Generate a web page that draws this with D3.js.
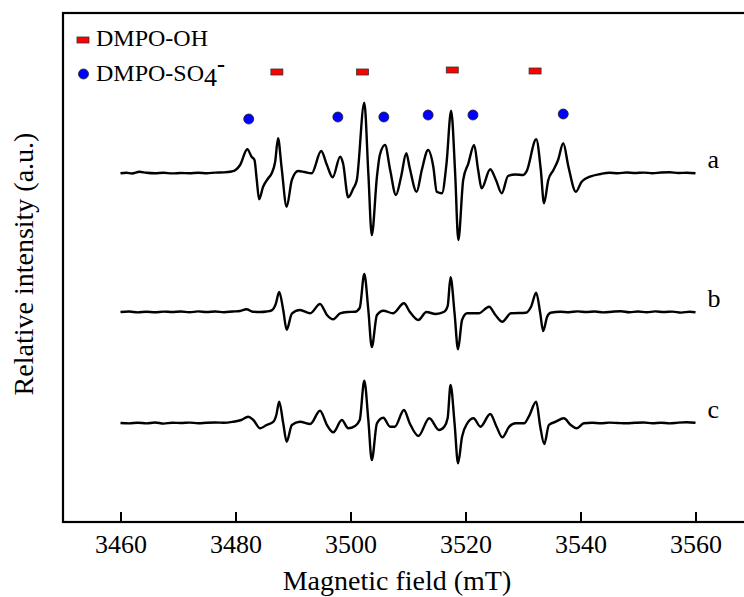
<!DOCTYPE html>
<html>
<head>
<meta charset="utf-8">
<script src="https://cdn.jsdelivr.net/npm/d3@7"></script>
<style>
  body { margin: 0; background: #fff; }
  svg text { font-family: "Liberation Serif", "Times New Roman", serif; fill: #000; }
</style>
</head>
<body>
<div class="EprChart"></div>
<script>
// spectra: [magnetic field (mT), relative intensity]
let traceA = [
    [3460.0,-0.3],[3461.0,0.3],[3462.0,-0.5],[3463.3,1.2],[3464.5,0.2],[3466,-0.3],[3467.5,0.2],[3469,-0.4],
    [3470.5,0],[3472,-0.3],[3473.5,0.3],[3475,-0.2],[3476.5,0.4],[3478,0.6],[3479.3,1.5],[3480.0,3],
    [3480.8,8],[3482.05,23.7],[3482.8,16.3],[3483.3,13],[3483.7,-7],[3484.1,-26.3],[3484.8,-13.7],[3485.6,-6],
    [3486.3,-0.3],[3486.9,11.3],[3487.4,34.7],[3488.0,6.3],[3488.9,-33.7],[3489.8,-7],[3490.9,2],[3492,1],
    [3493.25,-0.3],[3494.9,22],[3495.9,8],[3496.9,-4.3],[3498.2,16.3],[3498.7,9.7],[3499.6,-24.3],[3500.5,-15.3],
    [3501.1,-7],[3502.4,70.3],[3503.1,0],[3503.7,-62],[3504.6,-3.7],[3505.1,18],[3506.0,28],[3506.9,3],
    [3507.9,-22],[3508.8,-3.7],[3509.7,19.7],[3510.3,5],[3511.5,-18.7],[3512.4,3],[3513.5,23],[3514.4,6.3],
    [3515.0,-18.7],[3515.9,-20.3],[3516.7,9.7],[3517.5,62.3],[3518.2,-0.3],[3518.75,-67],[3519.6,-7],[3520.5,9.7],
    [3521.5,28],[3522.2,3],[3522.8,-15.3],[3524.3,3.7],[3525.3,-7],[3526.3,-20.3],[3527.4,-3],[3528.7,-1.5],
    [3530.05,-2],[3530.6,1.3],[3532.3,33.7],[3533.1,3],[3533.65,-30.3],[3534.4,-7],[3535.3,3],[3536.1,13],
    [3537.0,29.7],[3537.9,6.3],[3539.2,-18.7],[3540.2,-8.7],[3541.65,-3.7],[3543.5,-1],[3545,0.3],[3546.5,-0.3],
    [3548,0.5],[3549.5,0],[3551,0.4],[3552.5,-0.2],[3554,0.5],[3555.5,0.8],[3557,0],[3558.5,0.3],[3560,-0.3]
];

let traceB = [
    [3460,0],[3461.5,0.5],[3463,-0.4],[3464.5,0.3],[3466,-0.3],[3467.5,0.4],[3469,0],[3470.5,0.5],
    [3472,-0.3],[3473.5,0.6],[3475,0],[3476.5,0.5],[3478,-0.2],[3479.5,0.5],[3480.8,1],[3481.9,2.7],
    [3483,0.3],[3484.3,0],[3485.4,0.5],[3486.3,1.7],[3487.0,8],[3487.6,20],[3488.3,2],[3488.9,-17.7],
    [3489.8,-1.7],[3491.2,2],[3493.0,-1.3],[3494.7,8],[3495.9,-3],[3497.0,-7.3],[3498.2,-1.3],[3499.5,0],
    [3500.8,0.3],[3501.6,4],[3502.4,38],[3503.1,2],[3503.7,-35],[3504.6,-3],[3505.7,1.3],[3507.4,-1.3],
    [3509.3,8.7],[3510.3,0.3],[3511.8,-8],[3513.2,0],[3514.8,-2],[3516.3,0.3],[3516.9,6],[3517.4,34.7],
    [3518.1,-1.3],[3518.7,-37.3],[3519.4,-8],[3520.3,-1.3],[3522.3,-1.3],[3524.1,5.3],[3525.2,-3],[3526.4,-9.7],
    [3527.9,-1.3],[3530.5,-0.7],[3531.4,5.3],[3532.3,19.3],[3533.0,-1.3],[3533.5,-19],[3534.2,-4.7],[3534.8,-0.7],
    [3536.5,0.3],[3538,-0.2],[3539.5,0.6],[3541,0],[3542.5,0.5],[3544,-0.4],[3545.5,0.3],[3547,0.8],
    [3548.5,-0.2],[3550,0.5],[3551.5,-0.3],[3553,0.6],[3554.5,0],[3556,0.4],[3557.5,-0.6],[3559,0.3],[3560,-0.2]
];

let traceC = [
    [3460,0],[3461.5,-0.4],[3463,0.3],[3464.5,-0.4],[3466,0.5],[3467.5,-0.6],[3469,0.3],[3470.5,0],
    [3472,0.4],[3473.5,-0.2],[3475,0.3],[3476.5,0.5],[3478,0.2],[3479.6,1.3],[3481,3],[3482.2,6.3],
    [3483.1,3],[3484.3,-5.3],[3485.4,-2],[3486.6,1.3],[3487.1,8],[3487.6,21.3],[3488.3,-0.3],[3488.9,-18.7],
    [3489.8,-2],[3491.2,1.3],[3493.0,-1],[3494.7,12.3],[3495.9,-2],[3497.0,-9.3],[3498.5,3],[3499.6,-5.3],
    [3500.8,-3],[3501.6,3],[3502.4,42.3],[3503.1,3],[3503.7,-37],[3504.6,-0.3],[3505.7,5.3],[3506.9,-3.7],
    [3507.7,-3.7],[3509.3,13],[3510.3,-0.3],[3511.8,-13],[3513.7,4.7],[3515.4,-7],[3516.3,-3.7],[3516.9,5],
    [3517.4,38],[3518.1,-0.3],[3518.7,-40.3],[3519.4,-13.7],[3520.3,-0.3],[3521.4,4.7],[3522.6,-3.7],[3524.3,9],
    [3525.4,-3.7],[3526.4,-14.3],[3527.6,-3.7],[3528.7,-0.3],[3530.2,-0.3],[3531.0,6.3],[3532.3,21.3],[3533.0,-3.7],
    [3533.7,-21],[3534.5,-2],[3535.7,1.3],[3537.1,4.7],[3538.3,-2],[3539.3,-5.3],[3540.6,-0.3],[3542,0.2],
    [3543.5,-0.3],[3545,0.4],[3546.5,0],[3548,-0.3],[3549.5,0.2],[3551,0.5],[3552.5,-0.2],[3554,0.3],
    [3555.5,-0.4],[3557,0.4],[3558.5,0.8],[3560,0.2]
];

let traceLabels = ["a", "b", "c"];
let traceOffsets = [349, 210, 99];   // vertical stacking of the three spectra

// peak markers above spectrum a
let ohFields = [3487.2, 3502.1, 3517.7, 3532.1];
let ohLevels = [450, 450, 452, 451];
let so4Fields = [3482.3, 3497.8, 3505.8, 3513.5, 3521.3, 3537.0];
let so4Levels = [403, 405, 405, 407, 407, 408];

let xTicks = [3460, 3480, 3500, 3520, 3540, 3560];
let xDomain = [3450, 3570];
let yDomain = [0, 509];

let width = 744, height = 597;
let margin = {top: 13, left: 63, bottom: 75};
let tickFont = 26, titleFont = 28, legendFont = 24;

let xScale = d3.scaleLinear()
                .domain(xDomain)
                .range([margin.left, margin.left + 120 * 5.75]);

let yScale = d3.scaleLinear()
                .domain(yDomain)
                .range([height - margin.bottom, margin.top]);

let svg = d3.select(".EprChart")
            .append("svg")
            .attr("width", width)
            .attr("height", height);

// frame (right edge falls outside the picture)
svg.append("rect")
    .attr("x", xScale(xDomain[0]))
    .attr("y", yScale(yDomain[1]))
    .attr("width", xScale(xDomain[1]) - xScale(xDomain[0]))
    .attr("height", yScale(yDomain[0]) - yScale(yDomain[1]))
    .attr("fill", "none")
    .attr("stroke", "#000")
    .attr("stroke-width", 2.2);

let xAxis = d3.axisBottom(xScale)
              .tickValues(xTicks)
              .tickFormat(d3.format("d"))
              .tickSizeInner(-10)
              .tickSizeOuter(0)
              .tickPadding(13);

let axisG = svg.append("g")
    .attr("transform", "translate(0," + yScale(yDomain[0]) + ")")
    .call(xAxis);
axisG.select(".domain").remove();
axisG.selectAll(".tick line").attr("stroke-width", 2);
axisG.selectAll(".tick text")
    .attr("font-family", "Liberation Serif, Times New Roman, serif")
    .attr("font-size", tickFont)
    .attr("fill", "#000");

svg.append("text")
    .attr("x", 397)
    .attr("y", 590)
    .attr("text-anchor", "middle")
    .attr("font-size", titleFont)
    .text("Magnetic field (mT)");

svg.append("text")
    .attr("transform", "translate(33," + 264 + ") rotate(-90)")
    .attr("text-anchor", "middle")
    .attr("font-size", titleFont)
    .text("Relative intensity (a.u.)");

let line = d3.line()
             .curve(d3.curveMonotoneX);

let traces = [traceA, traceB, traceC];
traces.forEach(function(trace, i) {
    let off = traceOffsets[i];
    svg.append("path")
        .datum(trace)
        .attr("fill", "none")
        .attr("stroke", "#000")
        .attr("stroke-width", 2.4)
        .attr("stroke-linejoin", "round")
        .attr("d", line.x(d => xScale(d[0])).y(d => yScale(d[1] + off)));

    let last = trace[trace.length - 1];
    svg.append("text")
        .attr("x", xScale(last[0]) + 12)
        .attr("y", yScale(off) - 5)
        .attr("font-size", tickFont)
        .text(traceLabels[i]);
});

// DMPO-OH markers
svg.selectAll(".ohMark")
    .data(ohFields)
    .enter()
    .append("rect")
    .attr("class", "ohMark")
    .attr("x", d => xScale(d) - 6)
    .attr("y", (d, i) => yScale(ohLevels[i]) - 3)
    .attr("width", 12)
    .attr("height", 6)
    .attr("fill", "#ff0000")
    .attr("stroke", "#333")
    .attr("stroke-width", 0.8);

// DMPO-SO4 markers
svg.selectAll(".so4Mark")
    .data(so4Fields)
    .enter()
    .append("circle")
    .attr("class", "so4Mark")
    .attr("cx", d => xScale(d))
    .attr("cy", (d, i) => yScale(so4Levels[i]))
    .attr("r", 5)
    .attr("fill", "#0000ff")
    .attr("stroke", "#222")
    .attr("stroke-width", 0.8);

// legend
svg.append("rect")
    .attr("x", 77).attr("y", 37)
    .attr("width", 12).attr("height", 6)
    .attr("fill", "#ff0000")
    .attr("stroke", "#333")
    .attr("stroke-width", 0.8);
svg.append("text")
    .attr("x", 96).attr("y", 46)
    .attr("font-size", legendFont)
    .text("DMPO-OH");

svg.append("circle")
    .attr("cx", 83.5).attr("cy", 74)
    .attr("r", 5)
    .attr("fill", "#0000ff")
    .attr("stroke", "#222")
    .attr("stroke-width", 0.8);
let so4Text = svg.append("text")
    .attr("x", 96).attr("y", 81)
    .attr("font-size", legendFont);
so4Text.append("tspan").text("DMPO-SO");
so4Text.append("tspan").attr("dy", 5).attr("font-size", 26).text("4");
so4Text.append("tspan").attr("dy", -14).attr("font-size", 24).attr("font-weight", "bold").text("-");
</script>
</body>
</html>
